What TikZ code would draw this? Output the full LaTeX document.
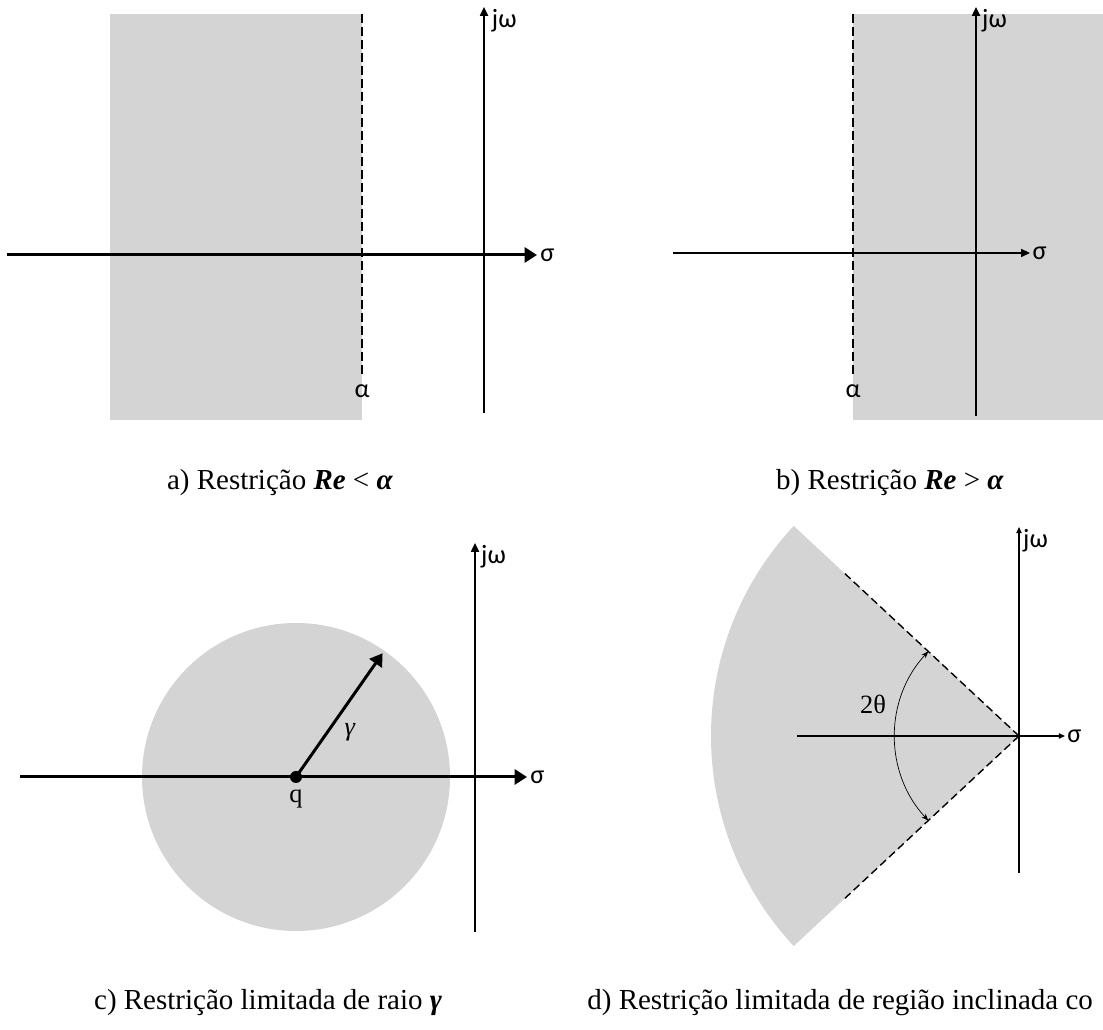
\documentclass[tikz,border=0pt]{standalone}
\usepackage{fontspec}
\setmainfont{Liberation Serif}
\newfontfamily\lblfont{Carlito}
\usetikzlibrary{arrows.meta}
\definecolor{regiao}{RGB}{212,212,212}
\tikzset{
  eixo/.style={line width=1.1pt},
  eixofino/.style={line width=0.85pt},
  eixogrosso/.style={line width=1.7pt},
  limite/.style={line width=1.1pt, dash pattern=on 5pt off 2.4pt},
  tracejado/.style={line width=0.8pt, dash pattern=on 4.5pt off 2.4pt},
  rotulo/.style={font=\lblfont\fontsize{15}{17}\selectfont, inner sep=1pt},
  serifa/.style={font=\fontsize{15}{17}\selectfont, inner sep=1pt},
  legenda/.style={font=\fontsize{16.5}{19}\selectfont, inner sep=0pt},
  pontagrande/.style={-{Triangle[length=7pt,width=8.5pt]}},
  pontapequena/.style={-{Triangle[length=5pt,width=4.5pt]}},
  pontinha/.style={-{Triangle[length=3.5pt,width=3pt]}},
}
\begin{document}
\begin{tikzpicture}[x=0.02cm, y=0.02cm, line join=round]
\useasboundingbox (0,0) rectangle (1103,1030);

% a) Re < alfa
\fill[regiao] (110,610) rectangle (362,1016);
\draw[limite] (362,1016) -- (362,652) node[rotulo, below=2pt] (alfaA) {α};
\draw[eixogrosso, pontagrande] (7,775) -- (537,775) node[rotulo, right] (sigmaA) {σ};
\draw[eixo, pontapequena] (484,617) -- (484,1023) node[rotulo, below right, xshift=3pt] (jwA) {jω};
\node[legenda] (legA) at (280,547) {a) Restrição \textbf{\textit{Re}} < \textbf{\textit{α}}};

% b) Re > alfa
\fill[regiao] (853,610) rectangle (1103,1016);
\draw[limite] (853,1016) -- (853,652) node[rotulo, below=2pt] (alfaB) {α};
\draw[eixofino, pontapequena] (673,777) -- (1030,777) node[rotulo, right] (sigmaB) {σ};
\draw[eixo, pontapequena] (976,614) -- (976,1023) node[rotulo, below right, xshift=2pt] (jwB) {jω};
\node[legenda] (legB) at (890,547) {b) Restrição \textbf{\textit{Re}} > \textbf{\textit{α}}};

% c) raio gama
\coordinate (q) at (296,253);
\fill[regiao] (q) circle[radius=154];
\draw[eixogrosso, pontagrande] (20,253) -- (527,253) node[rotulo, right] (sigmaC) {σ};
\draw[eixo, pontapequena] (475,98) -- (475,487) node[rotulo, below right, xshift=2pt] (jwC) {jω};
\draw[eixogrosso, pontagrande] (q) -- ++(55:151) coordinate (borda);
\fill (q) circle[radius=6];
\node[serifa, below=6pt] (qlbl) at (q) {q};
\node[serifa] (gama) at (350,298) {\textit{γ}};
\node[legenda] (legC) at (268,27) {c) Restrição limitada de raio \textbf{\textit{γ}}};

% d) regiao inclinada
\coordinate (o) at (1019,294);
\fill[regiao] (o) -- ++(137:308) arc[start angle=137, end angle=223, radius=308] -- cycle;
\draw[tracejado] (o) -- ++(137:238);
\draw[tracejado] (o) -- ++(223:238);
\draw[line width=0.7pt, pontinha] (797,294) -- (1065,294) node[rotulo, right] (sigmaD) {σ};
\draw[line width=0.8pt, pontinha] (1019,157) -- (1019,503) node[rotulo, below right, xshift=1pt] (jwD) {jω};
\draw[line width=0.4pt, {Stealth[length=4pt,width=3pt]}-{Stealth[length=4pt,width=3pt]}]
  ([shift={(137:124)}]o) arc[start angle=137, end angle=223, radius=124];
\node[serifa] (teta) at (873,326) {2θ};
\node[legenda, anchor=west] (legD) at (587,27) {d) Restrição limitada de região inclinada co};
\end{tikzpicture}
\end{document}
